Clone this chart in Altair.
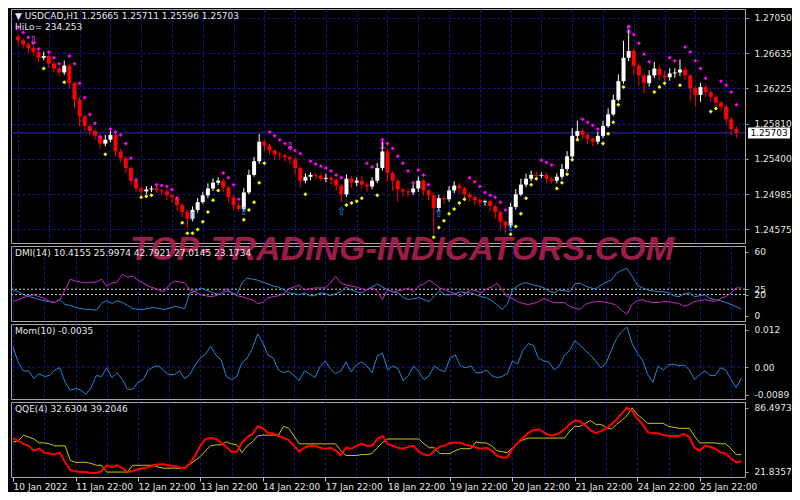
import altair as alt
import pandas as pd

_ = None

# ---------------- data ----------------
time_labels = ["10 Jan 2022", "11 Jan 22:00", "12 Jan 22:00", "13 Jan 22:00", "14 Jan 22:00",
               "17 Jan 22:00", "18 Jan 22:00", "19 Jan 22:00", "20 Jan 22:00", "21 Jan 22:00",
               "24 Jan 22:00", "25 Jan 22:00"]
bars_per_label = 12
bars_per_grid = 6

price_ticks = [1.27050, 1.26635, 1.26225, 1.25810, 1.25400, 1.24985, 1.24575]
bid_price = [1.25703]
first_open = 1.26830

close = [
    1.26787, 1.26741, 1.26696, 1.26650, 1.26582, 1.26604, 1.26513, 1.26456, 1.26410, 1.26490,
    1.26285, 1.26091, 1.25897, 1.25783, 1.25726, 1.25669, 1.25578, 1.25623, 1.25680, 1.25486,
    1.25406, 1.25292, 1.25144, 1.25053, 1.25019, 1.25041, 1.25053, 1.25030, 1.25019, 1.24973,
    1.24950, 1.24859, 1.24779, 1.24699, 1.24802, 1.24893, 1.24973, 1.25053, 1.25121, 1.25144,
    1.25064, 1.24950, 1.24859, 1.24813, 1.25007, 1.25212, 1.25372, 1.25600, 1.25555, 1.25498,
    1.25452, 1.25441, 1.25418, 1.25395, 1.25292, 1.25144, 1.25190, 1.25212, 1.25201, 1.25167,
    1.25178, 1.25155, 1.25087, 1.24984, 1.25167, 1.25121, 1.25144, 1.25098, 1.25076, 1.25144,
    1.25292, 1.25486, 1.25235, 1.25144, 1.25041, 1.25019, 1.25007, 1.25053, 1.25144, 1.25030,
    1.24973, 1.24825, 1.24939, 1.24927, 1.25030, 1.25087, 1.25053, 1.24984, 1.24950, 1.24916,
    1.24893, 1.24904, 1.24847, 1.24779, 1.24665, 1.24619, 1.24836, 1.24984, 1.25098, 1.25167,
    1.25212, 1.25201, 1.25212, 1.25167, 1.25144, 1.25190, 1.25281, 1.25429, 1.25669, 1.25726,
    1.25680, 1.25635, 1.25600, 1.25669, 1.25783, 1.25920, 1.26091, 1.26308, 1.26582, 1.26662,
    1.26490, 1.26376, 1.26285, 1.26376, 1.26456, 1.26376, 1.26354, 1.26399, 1.26410, 1.26445,
    1.26376, 1.26228, 1.26148, 1.26239, 1.26182, 1.26125, 1.26057, 1.26011, 1.25863, 1.25749,
    1.25703]

upper_wick_pips = [
    3, 2, 3, 2, 4, 5, 2, 3, 2, 6,
    2, 2, 3, 2, 2, 3, 2, 6, 5, 2,
    3, 2, 2, 2, 3, 4, 3, 4, 2, 3,
    2, 2, 2, 2, 4, 5, 4, 6, 5, 4,
    2, 2, 2, 3, 5, 6, 5, 9, 3, 2,
    2, 3, 2, 2, 2, 2, 4, 3, 2, 3,
    5, 3, 2, 2, 5, 3, 4, 5, 3, 4,
    6, 12, 3, 2, 2, 2, 3, 5, 5, 2,
    2, 3, 4, 3, 5, 5, 3, 2, 2, 2,
    3, 2, 2, 2, 2, 2, 5, 6, 7, 6,
    5, 4, 3, 3, 2, 4, 6, 6, 9, 12,
    3, 2, 2, 5, 6, 7, 6, 8, 20, 25,
    3, 3, 2, 6, 8, 4, 5, 6, 5, 12,
    3, 2, 2, 5, 3, 2, 2, 2, 2, 3,
    3]

lower_wick_pips = [
    6, 5, 6, 4, 5, 3, 5, 4, 5, 3,
    6, 10, 12, 6, 5, 5, 6, 3, 3, 6,
    5, 6, 5, 4, 4, 3, 3, 3, 4, 5,
    6, 7, 6, 11, 3, 3, 2, 3, 3, 3,
    5, 6, 6, 3, 3, 2, 2, 3, 6, 5,
    6, 5, 5, 6, 7, 8, 3, 4, 4, 3,
    4, 5, 6, 9, 3, 6, 4, 5, 6, 3,
    3, 3, 10, 12, 14, 6, 5, 3, 4, 6,
    6, 30, 4, 6, 3, 3, 5, 6, 5, 6,
    5, 4, 6, 8, 10, 9, 3, 3, 2, 3,
    3, 4, 3, 5, 3, 3, 3, 3, 2, 3,
    5, 6, 5, 3, 3, 2, 2, 2, 3, 4,
    10, 12, 12, 4, 3, 5, 4, 4, 5, 4,
    5, 15, 14, 8, 6, 6, 5, 5, 6, 7,
    6]

hilo_upper = [
    1.26935, 1.26878, 1.26821, 1.26753, 1.26684, _, 1.26650, 1.26582, 1.26513, _,
    1.26604, 1.26513, 1.26285, 1.26114, 1.25920, 1.25817, 1.25657, _, 1.25749, 1.25715,
    1.25680, 1.25578, 1.25406, 1.25155, _, _, _, 1.25098, 1.25087, 1.25076,
    1.25041, 1.24939, _, _, _, _, _, _, _, _,
    1.25235, 1.25178, 1.25098, 1.24927, _, _, _, _, _, 1.25715,
    1.25669, 1.25623, 1.25578, 1.25532, 1.25498, 1.25463, _, 1.25372, 1.25338, 1.25315,
    1.25292, 1.25258, 1.25212, 1.25178, _, _, _, _, 1.25349, 1.25304,
    _, 1.25623, 1.25578, 1.25520, 1.25429, 1.25349, 1.25258, 1.25121, 1.25270, 1.25212,
    1.25098, _, _, _, _, _, _, _, 1.25178, 1.25133,
    1.25076, 1.25007, 1.24973, 1.24950, 1.24893, 1.24802, _, _, _, _,
    _, _, 1.25384, 1.25361, 1.25327, _, _, _, _, _,
    1.25863, 1.25829, 1.25794, 1.25749, _, _, _, _, _, 1.26947,
    1.26856, 1.26753, 1.26627, 1.26536, _, _, _, 1.26582, 1.26547, _,
    1.26707, 1.26650, 1.26547, 1.26456, 1.26342, _, _, 1.26308, 1.26262, 1.26182,
    1.26034]

hilo_lower = [
    _, _, _, _, _, 1.26456, _, _, _, 1.26296,
    _, _, _, _, _, _, _, 1.25452, _, _,
    _, _, _, _, 1.24950, 1.24961, 1.24973, _, _, _,
    _, _, 1.24653, 1.24528, 1.24528, 1.24574, 1.24665, 1.24779, 1.24916, 1.25030,
    _, _, _, _, 1.24688, 1.24802, 1.24893, 1.25121, 1.25349, _,
    _, _, _, _, _, _, 1.24984, _, _, _,
    _, _, _, _, 1.24859, 1.24882, 1.24904, 1.24939, _, _,
    1.24973, _, _, _, _, _, _, _, _, _,
    _, 1.24482, 1.24596, 1.24676, 1.24756, 1.24813, 1.24882, 1.24927, _, _,
    _, _, _, _, _, _, 1.24517, 1.24608, 1.24756, 1.24939,
    1.25098, 1.25167, _, _, _, 1.25053, 1.25121, 1.25220, 1.25390, 1.25623,
    _, _, _, _, 1.25578, 1.25692, 1.25829, 1.26034, 1.26240, _,
    _, _, _, _, 1.26182, 1.26239, 1.26285, _, _, 1.26262,
    _, _, _, _, _, 1.25954, 1.25988, _, _, _,
    _]

arrow_up_bars = [34, 44, 63, 82, 96]
arrow_up_price = [1.24722, 1.24779, 1.24779, 1.24756, 1.24585]
arrow_dn_bars = [3, 53, 71, 119]
arrow_dn_price = [1.26776, 1.25543, 1.25543, 1.26901]

dmi_ticks = [60, 25, 20, 0]
dmi_levels = [25, 20]
dmi_blue = [
    24.4, 22.6, 19.8, 18.0, 17.1, 15.2, 14.3, 13.4, 12.5, 15.2,
    10.7, 9.8, 7.9, 7.0, 6.1, 6.1, 5.2, 11.6, 14.3, 11.6,
    14.3, 12.5, 9.8, 7.0, 6.1, 6.1, 7.0, 7.9, 7.0, 6.1,
    7.0, 8.9, 7.9, 7.0, 21.6, 22.6, 26.2, 24.4, 22.6, 20.7,
    19.8, 23.5, 21.6, 19.8, 30.8, 35.3, 34.4, 33.5, 31.7, 29.9,
    28.0, 27.1, 24.4, 21.6, 20.7, 19.8, 21.6, 18.9, 18.9, 21.6,
    20.7, 18.9, 20.7, 22.6, 27.1, 24.4, 22.6, 21.6, 24.4, 27.1,
    29.9, 27.1, 24.4, 22.6, 21.6, 17.1, 15.2, 16.2, 17.1, 15.2,
    13.4, 18.9, 23.5, 19.8, 19.8, 20.7, 22.6, 21.6, 21.6, 19.8,
    18.0, 17.1, 14.3, 10.7, 6.1, 10.7, 24.4, 28.0, 30.8, 30.8,
    28.9, 28.0, 26.2, 23.5, 21.6, 24.4, 23.5, 22.6, 29.9, 30.8,
    28.0, 26.2, 25.3, 28.9, 31.7, 33.5, 39.9, 42.6, 44.5, 37.2,
    28.9, 26.2, 24.4, 23.5, 22.6, 22.6, 21.6, 18.9, 18.0, 20.7,
    21.6, 18.0, 18.9, 19.8, 16.2, 15.2, 14.3, 12.5, 10.7, 8.9,
    6.1]
dmi_magenta = [
    13.4, 15.2, 17.1, 18.9, 19.8, 18.0, 16.2, 13.4, 12.5, 15.2,
    24.4, 34.4, 32.6, 31.7, 30.8, 31.7, 31.7, 34.4, 28.0, 30.8,
    31.7, 39.0, 36.2, 37.2, 33.5, 30.8, 28.0, 26.2, 24.4, 22.6,
    28.9, 32.6, 31.7, 30.8, 24.4, 22.6, 19.8, 18.9, 18.0, 18.9,
    21.6, 25.3, 21.6, 18.9, 18.0, 16.2, 15.2, 11.6, 12.5, 17.1,
    18.0, 18.9, 20.7, 25.3, 27.1, 28.9, 24.4, 25.3, 26.2, 26.2,
    26.2, 30.8, 37.2, 30.8, 28.9, 28.0, 27.1, 25.3, 24.4, 26.2,
    23.5, 15.2, 24.4, 22.6, 23.5, 24.4, 26.2, 22.6, 28.0, 29.9,
    33.5, 29.9, 26.2, 24.4, 22.6, 20.7, 18.0, 21.6, 24.4, 23.5,
    21.6, 25.3, 27.1, 30.8, 24.4, 18.0, 16.2, 13.4, 11.6, 10.7,
    11.6, 13.4, 16.2, 14.3, 12.5, 12.5, 12.5, 8.9, 7.0, 6.1,
    10.7, 12.5, 13.4, 13.4, 12.5, 11.6, 9.8, 5.2, 1.6, 10.7,
    14.3, 15.2, 13.4, 12.5, 12.5, 13.4, 13.4, 12.5, 11.6, 8.9,
    10.7, 13.4, 14.3, 15.2, 14.3, 13.4, 16.2, 18.0, 21.6, 26.2,
    26.2]

mom_ticks = [0.012, 0.0, -0.0089]
mom_tick_labels = ["0.012", "0.00", "-0.0089"]
mom_levels = [0.0]
momentum = [
    0.0064, 0.0014, -0.0012, -0.0012, -0.0037, -0.0021, -0.0030, -0.0027, -0.0009, -0.0002,
    -0.0049, -0.0074, -0.0068, -0.0074, -0.0087, -0.0065, -0.0027, -0.0030, -0.0002, -0.0034,
    -0.0018, -0.0040, -0.0071, -0.0071, -0.0049, -0.0040, -0.0009, 0.0001, 0.0004, -0.0012,
    -0.0024, -0.0024, -0.0012, -0.0037, -0.0024, 0.0007, 0.0029, 0.0042, 0.0067, 0.0039,
    0.0023, -0.0030, -0.0040, -0.0030, 0.0014, 0.0029, 0.0060, 0.0107, 0.0079, 0.0039,
    0.0029, -0.0009, -0.0018, -0.0012, -0.0027, -0.0043, -0.0012, -0.0021, -0.0034, 0.0001,
    0.0020, -0.0005, -0.0021, -0.0012, 0.0017, -0.0015, 0.0007, 0.0017, 0.0004, -0.0018,
    0.0035, 0.0045, -0.0009, 0.0004, -0.0005, -0.0043, -0.0027, 0.0004, -0.0015, -0.0040,
    -0.0027, 0.0004, -0.0009, -0.0015, 0.0029, 0.0039, 0.0004, -0.0002, 0.0004, -0.0018,
    -0.0018, -0.0009, -0.0027, -0.0034, -0.0030, -0.0021, 0.0020, 0.0010, 0.0054, 0.0076,
    0.0070, 0.0029, 0.0020, 0.0017, -0.0009, 0.0004, 0.0039, 0.0054, 0.0085, 0.0070,
    0.0054, 0.0039, 0.0020, -0.0002, 0.0014, 0.0054, 0.0092, 0.0114, 0.0129, 0.0076,
    0.0045, 0.0023, -0.0024, -0.0049, 0.0004, -0.0009, 0.0007, 0.0010, 0.0004, 0.0007,
    -0.0009, -0.0040, -0.0024, -0.0012, -0.0027, -0.0027, -0.0002, -0.0009, -0.0040, -0.0065,
    -0.0035]

qqe_ticks = [86.4973, 21.8357]
qqe_red = [
    56.0, 53.0, 50.1, 48.1, 43.2, 45.2, 41.2, 40.3, 39.3, 41.2,
    31.4, 23.5, 22.5, 21.6, 21.6, 20.6, 20.6, 22.5, 28.4, 26.5,
    28.4, 25.5, 21.6, 22.5, 24.5, 25.5, 26.5, 28.4, 29.4, 29.4,
    28.4, 27.5, 26.5, 25.5, 30.4, 38.3, 48.1, 55.0, 56.0, 55.0,
    51.1, 47.2, 42.2, 42.2, 51.1, 57.0, 59.9, 67.8, 65.8, 60.9,
    60.9, 58.0, 56.0, 54.0, 48.1, 42.2, 46.2, 48.1, 48.1, 46.2,
    45.2, 46.2, 43.2, 38.3, 46.2, 45.2, 48.1, 50.1, 48.1, 48.1,
    55.0, 58.0, 50.1, 48.1, 46.2, 45.2, 47.2, 48.1, 42.2, 39.3,
    38.3, 43.2, 47.2, 48.1, 51.1, 51.1, 51.1, 49.1, 48.1, 46.2,
    45.2, 46.2, 43.2, 38.3, 36.3, 36.3, 45.2, 51.1, 56.0, 60.9,
    63.9, 64.9, 61.9, 58.9, 58.9, 60.9, 64.9, 69.8, 73.7, 72.7,
    68.8, 63.9, 60.9, 62.9, 65.8, 69.8, 74.7, 80.6, 86.5, 83.5,
    75.7, 69.8, 61.9, 60.9, 60.9, 58.9, 58.0, 58.0, 58.0, 59.9,
    57.0, 46.2, 43.2, 48.1, 47.2, 45.2, 41.2, 40.3, 35.3, 31.4,
    32.6]
qqe_yellow = [
    52.1, 53.0, 58.9, 57.0, 55.0, 51.1, 51.1, 50.1, 48.1, 48.1,
    48.1, 33.4, 31.4, 31.4, 31.4, 30.4, 28.4, 28.4, 21.6, 21.6,
    21.6, 21.6, 21.6, 28.4, 28.4, 28.4, 28.4, 28.4, 26.5, 25.5,
    25.5, 25.5, 25.5, 26.5, 29.4, 33.4, 37.3, 43.2, 48.1, 49.1,
    49.1, 52.1, 50.1, 49.1, 41.2, 48.1, 52.1, 58.0, 58.9, 58.9,
    58.9, 58.9, 67.8, 65.8, 58.0, 50.1, 50.1, 50.1, 50.1, 50.1,
    50.1, 50.1, 50.1, 43.2, 38.3, 38.3, 38.3, 39.3, 39.3, 40.3,
    46.2, 51.1, 55.0, 55.0, 55.0, 55.0, 55.0, 55.0, 55.0, 50.1,
    46.2, 46.2, 40.3, 40.3, 40.3, 43.2, 45.2, 45.2, 45.2, 52.1,
    51.1, 51.1, 48.1, 43.2, 42.2, 41.2, 46.2, 51.1, 54.0, 56.0,
    56.0, 56.0, 56.0, 56.0, 56.0, 56.0, 56.0, 62.9, 67.8, 67.8,
    70.8, 73.7, 69.8, 69.8, 66.8, 64.9, 69.8, 73.7, 78.6, 86.5,
    79.6, 75.7, 70.8, 70.8, 70.8, 70.8, 67.8, 66.8, 65.8, 65.8,
    65.8, 58.0, 51.1, 51.1, 51.1, 51.1, 50.1, 50.1, 45.2, 39.3,
    39.2]

main_title = "\u25bc USDCAD,H1  1.25665 1.25711 1.25596 1.25703"
hilo_title = "HiLo= 234.253"
dmi_title = "DMI(14) 10.4155 25.9974 42.7921 27.0145 23.1734"
mom_title = "Mom(10) -0.0035"
qqe_title = "QQE(4) 32.6304 39.2046"
watermark = "TOP-TRADING-INDICATORS.COM"

n = len(close)
for name, arr in [("up", upper_wick_pips), ("lo", lower_wick_pips), ("hu", hilo_upper),
                  ("hl", hilo_lower), ("db", dmi_blue), ("dm", dmi_magenta),
                  ("mom", momentum), ("qr", qqe_red), ("qy", qqe_yellow)]:
    assert len(arr) == n, (name, len(arr), n)

# ---------------- tables ----------------
opens = [first_open] + close[:-1]
candles = pd.DataFrame({
    "i": list(range(n)),
    "open": opens,
    "close": close,
    "high": [max(o, c) + u * 0.0001 for o, c, u in zip(opens, close, upper_wick_pips)],
    "low": [min(o, c) - w * 0.0001 for o, c, w in zip(opens, close, lower_wick_pips)],
    "dir": ["up" if c >= o else "down" for o, c in zip(opens, close)],
})
hilo = pd.DataFrame({"i": list(range(n)), "upper": hilo_upper, "lower": hilo_lower})
ind = pd.DataFrame({"i": list(range(n)), "dmi_b": dmi_blue, "dmi_m": dmi_magenta,
                    "mom": momentum, "qqe_r": qqe_red, "qqe_y": qqe_yellow})
arr_up = pd.DataFrame({"i": arrow_up_bars, "p": arrow_up_price})
arr_dn = pd.DataFrame({"i": arrow_dn_bars, "p": arrow_dn_price})

# ---------------- styling ----------------
W = 734
H_MAIN = 234
H_SUB = 75
NAVY = "#15158c"
GDASH = [3, 2]
TXT = "#e6e6e6"
FONT = "DejaVu Sans"

grid_values = list(range(0, n, bars_per_grid))
lab = [time_labels[v // bars_per_label] if v % bars_per_label == 0 else "" for v in grid_values]
label_expr = "[" + ",".join("'" + s + "'" for s in lab) + "][round(datum.value / %d)]" % bars_per_grid

x_scale = alt.Scale(domain=[-0.4, 140.7], nice=False, zero=False)


def x_enc(field="i", bottom=False):
    if bottom:
        ax = alt.Axis(values=grid_values, grid=True, gridColor=NAVY, gridDash=GDASH,
                      domain=False, ticks=True, tickSize=4, tickColor="#c8c8c8",
                      tickOpacity={"condition": {"test": "datum.value %% %d === 0" % bars_per_label,
                                                 "value": 1}, "value": 0},
                      labels=True, labelExpr=label_expr,
                      labelAlign="left", labelOverlap=False, labelFlush=False,
                      labelPadding=1, labelColor=TXT, labelFont=FONT, labelFontSize=9, title=None)
    else:
        ax = alt.Axis(values=grid_values, grid=True, gridColor=NAVY, gridDash=GDASH,
                      domain=False, ticks=False, labels=False, title=None)
    return alt.X(f"{field}:Q", scale=x_scale, axis=ax)


def y_axis(values, fmt=None, expr=None, grid=False):
    kw = dict(orient="right", values=values, domain=False, tickSize=3, tickColor="#a0a0a0",
              labelPadding=6, labelColor=TXT, labelFont=FONT, labelFontSize=9,
              labelOverlap=False, title=None, grid=grid)
    if grid:
        kw.update(gridColor=NAVY, gridDash=GDASH)
    if fmt:
        kw["format"] = fmt
    if expr:
        kw["labelExpr"] = expr
    return alt.Axis(**kw)


def label_lookup(values, labels):
    expr = "''"
    for v, l in reversed(list(zip(values, labels))):
        expr = f"abs(datum.value - ({v})) < 1e-9 ? '{l}' : {expr}"
    return expr


def header(text, y):
    return alt.Chart(pd.DataFrame({"t": [text]})).mark_text(
        align="left", baseline="middle", font=FONT, fontSize=9, color=TXT
    ).encode(x=alt.value(4), y=alt.value(y), text="t:N")


# ---------------- main panel ----------------
p_scale = alt.Scale(domain=[1.24415, 1.27153], nice=False, zero=False)
p_axis = y_axis(price_ticks, fmt=".5f", grid=True)


def py(field):
    return alt.Y(f"{field}:Q", scale=p_scale, axis=p_axis)


bid_df = pd.DataFrame({"p": bid_price, "t": [f"{bid_price[0]:.5f}"]})
bid_line = alt.Chart(bid_df).mark_rule(color="#2a2ab8", strokeWidth=1).encode(y=py("p"))

dir_color = alt.Color("dir:N", scale=alt.Scale(domain=["up", "down"], range=["#ffffff", "#ff0000"]),
                      legend=None)
wicks = alt.Chart(candles).mark_rule(strokeWidth=1).encode(
    x=x_enc(), y=py("low"), y2="high:Q", color=dir_color)
bodies = alt.Chart(candles).mark_bar(size=4).encode(
    x=x_enc(), y=py("open"), y2="close:Q", color=dir_color)
dots_top = alt.Chart(hilo).mark_point(shape="diamond", filled=True, size=16, color="#ff00ff",
                                      opacity=1).encode(x=x_enc(), y=py("upper"))
dots_bot = alt.Chart(hilo).mark_point(shape="diamond", filled=True, size=16, color="#ffff00",
                                      opacity=1).encode(x=x_enc(), y=py("lower"))
up_arrows = alt.Chart(arr_up).mark_text(text="\u21e7", font=FONT, fontSize=11, color="#1e90ff",
                                        baseline="middle").encode(x=x_enc(), y=py("p"))
dn_arrows = alt.Chart(arr_dn).mark_text(text="\u21e9", font=FONT, fontSize=11, color="#ff40ff",
                                        baseline="middle").encode(x=x_enc(), y=py("p"))
bid_box = alt.Chart(bid_df).mark_point(
    shape="M-1,-0.26L1,-0.26L1,0.26L-1,0.26Z", size=1764, filled=True, color="#ffffff",
    opacity=1).encode(x=alt.value(W + 24), y=py("p"))
bid_text = alt.Chart(bid_df).mark_text(font=FONT, fontSize=9, color="#000000", align="center",
                                       baseline="middle").encode(
    x=alt.value(W + 24), y=py("p"), text="t:N")

main = alt.layer(bid_line, wicks, bodies, dots_top, dots_bot, up_arrows, dn_arrows,
                 header(main_title, 7), header(hilo_title, 18), bid_box, bid_text
                 ).properties(width=W, height=H_MAIN)

# ---------------- DMI panel ----------------
d_scale = alt.Scale(domain=[-4.8, 65.5], nice=False, zero=False)
d_axis = y_axis(dmi_ticks, fmt="d")
d_lev = alt.Chart(pd.DataFrame({"v": dmi_levels})).mark_rule(
    color="#c8c8c8", strokeDash=[2, 2], strokeWidth=1).encode(
    y=alt.Y("v:Q", scale=d_scale, axis=d_axis))
d_base = alt.Chart(ind).encode(x=x_enc())
d_blue = d_base.mark_line(color="#2a86d6", strokeWidth=1).encode(
    y=alt.Y("dmi_b:Q", scale=d_scale, axis=d_axis))
d_mag = d_base.mark_line(color="#c828c8", strokeWidth=1).encode(
    y=alt.Y("dmi_m:Q", scale=d_scale, axis=d_axis))
wm = alt.Chart(pd.DataFrame({"t": [watermark]})).mark_text(
    font="Liberation Sans", fontSize=34, fontWeight="bold", fontStyle="italic",
    color="#a6204f", opacity=0.92, align="center", baseline="alphabetic"
).encode(x=alt.value(391), y=alt.value(14), text="t:N")
dmi = alt.layer(d_lev, d_blue, d_mag, wm, header(dmi_title, 7)).properties(width=W, height=H_SUB)

# ---------------- Momentum panel ----------------
m_scale = alt.Scale(domain=[-0.01024, 0.01388], nice=False, zero=False)
m_axis = y_axis(mom_ticks, expr=label_lookup(mom_ticks, mom_tick_labels))
m_lev = alt.Chart(pd.DataFrame({"v": mom_levels})).mark_rule(
    color=NAVY, strokeDash=GDASH, strokeWidth=1).encode(
    y=alt.Y("v:Q", scale=m_scale, axis=m_axis))
m_line = alt.Chart(ind).mark_line(color="#2a86d6", strokeWidth=1).encode(
    x=x_enc(), y=alt.Y("mom:Q", scale=m_scale, axis=m_axis))
mom = alt.layer(m_lev, m_line, header(mom_title, 7)).properties(width=W, height=H_SUB)

# ---------------- QQE panel ----------------
q_scale = alt.Scale(domain=[16.6, 92.4], nice=False, zero=False)
q_axis = y_axis(qqe_ticks, fmt=".4f")
q_y = alt.Chart(ind).mark_line(color="#c8c800", strokeWidth=1).encode(
    x=x_enc(bottom=True), y=alt.Y("qqe_y:Q", scale=q_scale, axis=q_axis))
q_r = alt.Chart(ind).mark_line(color="#ff0000", strokeWidth=2).encode(
    x=x_enc(bottom=True), y=alt.Y("qqe_r:Q", scale=q_scale, axis=q_axis))
qqe = alt.layer(q_y, q_r, header(qqe_title, 7)).properties(width=W, height=H_SUB)

chart = alt.vconcat(main, dmi, mom, qqe, spacing=3, bounds="flush").properties(padding=0).configure(
    background="#000000"
).configure_view(stroke="#a8a8a8", strokeWidth=1)

chart.save("out.html", embed_options={"renderer": "svg", "actions": False})
